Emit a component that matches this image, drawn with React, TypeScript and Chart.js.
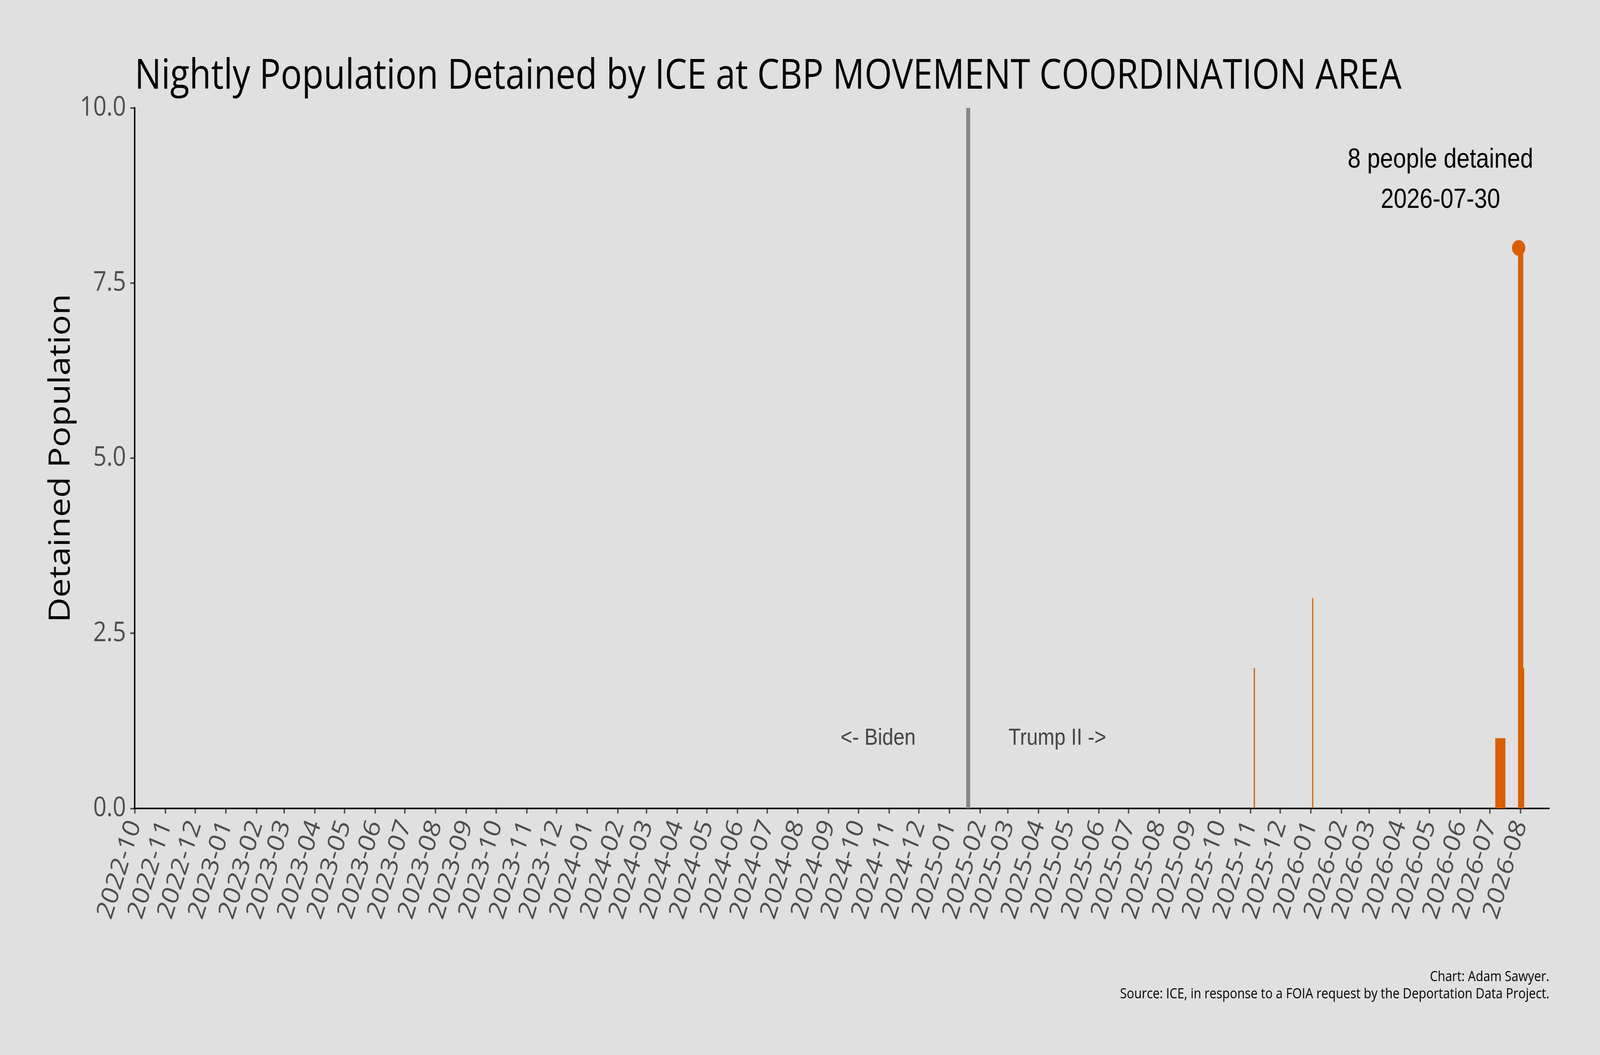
import React, { useEffect, useRef } from "react";
import { Chart, registerables } from "chart.js";

Chart.register(...registerables);

const TITLE = "Nightly Population Detained by ICE at CBP MOVEMENT COORDINATION AREA";
const Y_TITLE = "Detained Population";
const CREDITS = [
    "Chart: Adam Sawyer.",
    "Source: ICE, in response to a FOIA request by the Deportation Data Project.",
];

// nights with at least one person detained, every other night is 0
const detainedDates = [
    "2025-11-05",
    "2026-01-03",
    "2026-07-07", "2026-07-08", "2026-07-09", "2026-07-10", "2026-07-11",
    "2026-07-12", "2026-07-13", "2026-07-14", "2026-07-15", "2026-07-16",
    "2026-07-30", "2026-07-31", "2026-08-01", "2026-08-02", "2026-08-03",
    "2026-08-04",
];
const detainedCounts = [
    2,
    3,
    1, 1, 1, 1, 1,
    1, 1, 1, 1, 1,
    8, 8, 8, 8, 8,
    2,
];

const peakDate = "2026-07-30";
const peakCount = 8;

const inaugurationDate = "2025-01-20";
const eraLabels = ["<- Biden", "Trump II ->"];

const monthTicks = [
    "2022-10", "2022-11", "2022-12",
    "2023-01", "2023-02", "2023-03", "2023-04", "2023-05", "2023-06",
    "2023-07", "2023-08", "2023-09", "2023-10", "2023-11", "2023-12",
    "2024-01", "2024-02", "2024-03", "2024-04", "2024-05", "2024-06",
    "2024-07", "2024-08", "2024-09", "2024-10", "2024-11", "2024-12",
    "2025-01", "2025-02", "2025-03", "2025-04", "2025-05", "2025-06",
    "2025-07", "2025-08", "2025-09", "2025-10", "2025-11", "2025-12",
    "2026-01", "2026-02", "2026-03", "2026-04", "2026-05", "2026-06",
    "2026-07", "2026-08",
];
const yTicks = [0, 2.5, 5, 7.5, 10];

const xStart = "2022-10-01";
const xEnd = "2026-08-30";

const BG = "#e0e0e0";
const ORANGE = "#d95f02";
const TICK_GREY = "#4d4d4d";
const SANS = "'Open Sans', 'Noto Sans', sans-serif";
const ARIAL = "'Liberation Sans', Arial, sans-serif";

const DAY_MS = 86400000;
const toDay = (s: string) => {
    const [y, m, d] = s.split("-").map(Number);
    return Date.UTC(y, m - 1, d || 1) / DAY_MS;
};
const monthLabel = (v: number) => new Date(Math.round(v) * DAY_MS).toISOString().slice(0, 7);

const decorations = {
    id: "decorations",
    beforeDraw(chart: any) {
        const { ctx, width, height } = chart;
        ctx.save();
        ctx.fillStyle = BG;
        ctx.fillRect(0, 0, width, height);
        ctx.restore();
    },
    afterDatasetsDraw(chart: any) {
        const { ctx, chartArea } = chart;
        const x = chart.scales.x;
        const y = chart.scales.y;
        const inaug = toDay(inaugurationDate);
        const xi = x.getPixelForValue(inaug);

        ctx.save();
        ctx.strokeStyle = "#878787";
        ctx.lineWidth = 12;
        ctx.beginPath();
        ctx.moveTo(xi, chartArea.top);
        ctx.lineTo(xi, chartArea.bottom);
        ctx.stroke();

        ctx.font = `60px ${ARIAL}`;
        ctx.fillStyle = "#444444";
        ctx.textAlign = "center";
        ctx.textBaseline = "middle";
        ctx.fillText(eraLabels[0], x.getPixelForValue(inaug - 91), y.getPixelForValue(1));
        ctx.fillText(eraLabels[1], x.getPixelForValue(inaug + 90), y.getPixelForValue(1));

        // peak annotation
        const ax = x.getPixelForValue(toDay(peakDate) - 79);
        const ay = y.getPixelForValue(9);
        ctx.font = `70px ${ARIAL}`;
        ctx.fillStyle = "#000";
        ctx.textBaseline = "alphabetic";
        ctx.fillText(`${peakCount} people detained`, ax, ay - 26);
        ctx.fillText(peakDate, ax, ay + 77);
        ctx.restore();
    },
    afterDraw(chart: any) {
        const { ctx, chartArea } = chart;
        ctx.save();
        ctx.fillStyle = "#000";

        ctx.font = `106px ${SANS}`;
        ctx.textAlign = "left";
        ctx.textBaseline = "alphabetic";
        ctx.fillText(TITLE, chartArea.left, 227);

        ctx.save();
        ctx.translate(184, (chartArea.top + chartArea.bottom) / 2);
        ctx.rotate(-Math.PI / 2);
        ctx.font = `88px ${SANS}`;
        ctx.textAlign = "center";
        ctx.textBaseline = "middle";
        ctx.fillText(Y_TITLE, 0, 0);
        ctx.restore();

        ctx.font = `37px ${SANS}`;
        ctx.textAlign = "right";
        ctx.fillText(CREDITS[0], chartArea.right, 2511);
        ctx.fillText(CREDITS[1], chartArea.right, 2555);
        ctx.restore();
    },
};

const axisGrid = {
    display: true,
    drawOnChartArea: false,
    drawTicks: true,
    tickLength: 13,
    tickWidth: 4,
    tickColor: "#444444",
    offset: false,
};

const App = () => {
    const canvasRef = useRef<HTMLCanvasElement | null>(null);

    useEffect(() => {
        document.body.style.margin = "0";
        document.body.style.overflow = "hidden";
        const ctx = canvasRef.current?.getContext("2d");
        if (!ctx) return;

        const chart = new Chart(ctx, {
            type: "bar",
            data: {
                datasets: [
                    {
                        type: "scatter",
                        data: [{ x: toDay(peakDate), y: peakCount }],
                        pointRadius: 20,
                        pointHoverRadius: 20,
                        backgroundColor: ORANGE,
                        borderWidth: 0,
                        order: 0,
                    } as any,
                    {
                        type: "bar",
                        data: detainedDates.map((d, i) => ({ x: toDay(d), y: detainedCounts[i] })),
                        backgroundColor: ORANGE,
                        borderWidth: 0,
                        barPercentage: 1,
                        categoryPercentage: 1,
                        order: 1,
                    },
                ],
            },
            options: {
                animation: false,
                responsive: false,
                devicePixelRatio: 1,
                layout: { padding: { top: 276, right: 152, left: 0, bottom: 0 } },
                plugins: {
                    legend: { display: false },
                    tooltip: { enabled: false },
                    title: { display: false },
                },
                scales: {
                    x: {
                        type: "linear",
                        min: toDay(xStart),
                        max: toDay(xEnd),
                        offset: false,
                        grid: axisGrid,
                        border: { display: true, color: "#000", width: 4 },
                        afterBuildTicks: (scale: any) => {
                            scale.ticks = monthTicks.map((m) => ({ value: toDay(m) }));
                        },
                        afterFit: (scale: any) => {
                            scale.height = 631;
                        },
                        ticks: {
                            autoSkip: false,
                            minRotation: 70,
                            maxRotation: 70,
                            padding: 6,
                            color: TICK_GREY,
                            font: { family: SANS, size: 70 },
                            callback: (v: any) => monthLabel(Number(v)),
                        },
                    },
                    y: {
                        type: "linear",
                        min: 0,
                        max: 10,
                        grid: axisGrid,
                        border: { display: true, color: "#000", width: 4 },
                        afterBuildTicks: (scale: any) => {
                            scale.ticks = yTicks.map((v) => ({ value: v }));
                        },
                        afterFit: (scale: any) => {
                            scale.width = 404;
                        },
                        ticks: {
                            padding: 13,
                            color: TICK_GREY,
                            font: { family: SANS, size: 70 },
                            callback: (v: any) => Number(v).toFixed(1),
                        },
                    },
                },
            } as any,
            plugins: [decorations],
        });

        return () => {
            chart.destroy();
        };
    }, []);

    return (
        <div style={{ position: "fixed", left: 0, top: 0, width: "100vw", height: "100vh", overflow: "hidden", background: BG }}>
            <canvas
                ref={canvasRef}
                width={4800}
                height={2700}
                style={{ display: "block", width: "100vw", height: "100vh" }}
            />
        </div>
    );
};

export default App;
